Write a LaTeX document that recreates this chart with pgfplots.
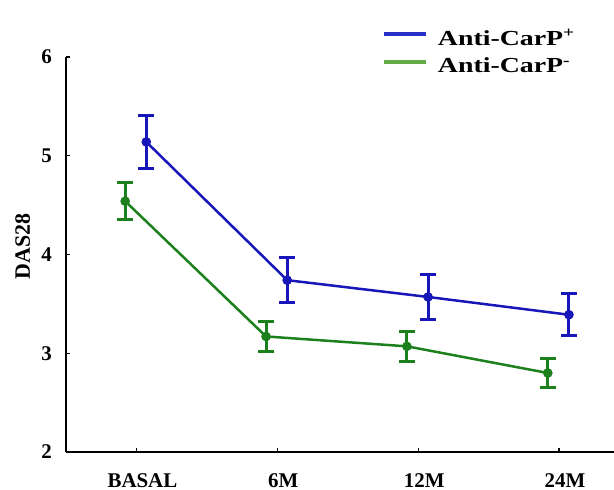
\documentclass[border=0pt]{standalone}
\usepackage{fontspec}
\setmainfont{Liberation Serif}
\usepackage{graphicx}
\usepackage{pgfplots}
\pgfplotsset{compat=1.18}

\definecolor{lineblue}{RGB}{22,22,185}
\definecolor{linegreen}{RGB}{28,128,28}
\definecolor{legblue}{RGB}{40,48,200}
\definecolor{leggreen}{RGB}{100,172,72}

\begin{document}
\begin{tikzpicture}
\begin{axis}[
  name=ax, at={(0,0)}, anchor=south west,
  scale only axis, width=548bp, height=395bp,
  xmin=-0.5, xmax=3.39, ymin=2, ymax=6, clip=false,
  axis lines=left, axis line style={-, line width=2.2bp},
  xtick={0,1,2,3}, xticklabels={BASAL,6M,12M,24M},
  ytick={2,3,4,5,6},
  tick align=inside, major tick length=4bp, tick style={line width=1.2bp,black},
  /pgf/number format/assume math mode=true,
  tick label style={font=\bfseries\fontsize{21}{25}\selectfont},
  xticklabel style={anchor=base, yshift=-35bp, xshift=6bp, inner sep=0pt},
  yticklabel style={anchor=east, xshift=-14bp, inner sep=0pt},
  ylabel={DAS28},
  ylabel style={font=\bfseries\fontsize{22}{26}\selectfont, at={(axis description cs:-0.079,0.52)}, anchor=center},
  legend style={draw=none, fill=none, inner sep=0pt, outer sep=0pt,
    at={(axis description cs:0.578,1.075)}, anchor=north west,
    font=\bfseries\fontsize{21.5}{25}\selectfont, row sep=7bp,
    /tikz/every odd column/.append style={column sep=8bp}},
  legend cell align=left,
  legend image code/.code={\draw[#1] (0bp,4bp) -- (42bp,4bp);},
]
% green: Anti-CarP-
\addplot[forget plot, linegreen, line width=2.5bp, mark=*, mark size=3.5bp,
  mark options={fill=linegreen, draw=linegreen, solid},
  error bars/.cd, y dir=both, y explicit,
  error bar style={line width=3bp, linegreen},
  error mark options={line width=3bp, mark size=8bp, linegreen, rotate=90}]
  coordinates {(-0.08,4.54) +- (0,0.19) (0.92,3.17) +- (0,0.155) (1.92,3.07) +- (0,0.15) (2.92,2.80) +- (0,0.145)};
% blue: Anti-CarP+
\addplot[forget plot, lineblue, line width=2.5bp, mark=*, mark size=3.5bp,
  mark options={fill=lineblue, draw=lineblue, solid},
  error bars/.cd, y dir=both, y explicit,
  error bar style={line width=3bp, lineblue},
  error mark options={line width=3bp, mark size=8bp, lineblue, rotate=90}]
  coordinates {(0.07,5.14) +- (0,0.27) (1.07,3.74) +- (0,0.225) (2.07,3.57) +- (0,0.225) (3.07,3.39) +- (0,0.215)};
\addlegendimage{legblue, line width=3.2bp}
\addlegendentry{\scalebox{1.3}[1]{Anti-CarP\textsuperscript{+}}}
\addlegendimage{leggreen, line width=3.2bp}
\addlegendentry{\scalebox{1.3}[1]{Anti-CarP\textsuperscript{-}}}
\end{axis}
\pgfresetboundingbox
\path[use as bounding box] (ax.south west) ++(-66bp,-38bp) rectangle ++(614bp,490bp);
\end{tikzpicture}
\end{document}
